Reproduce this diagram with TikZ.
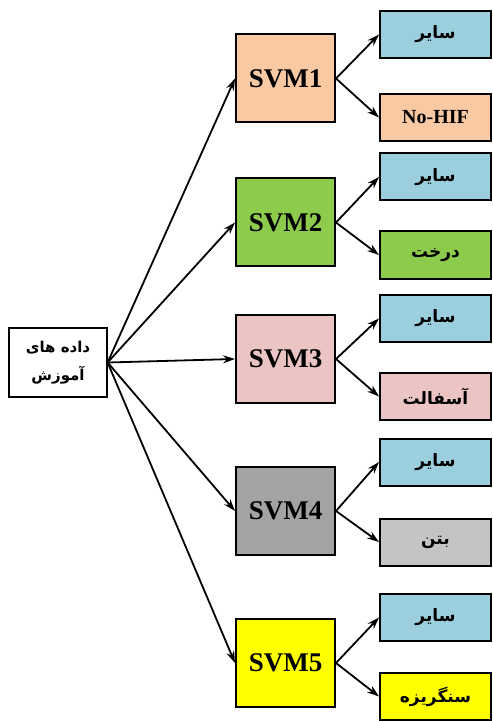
\documentclass[tikz,border=0pt]{standalone}
\usepackage{fontspec}
\setmainfont{Liberation Serif}
\newfontfamily\arabicfont[Script=Arabic]{DejaVu Sans}
\TeXXeTstate=1
\usetikzlibrary{positioning, arrows.meta}

\definecolor{peach}{HTML}{F9C9A3}
\definecolor{sky}{HTML}{9BCFDD}
\definecolor{leaf}{HTML}{8DCB4C}
\definecolor{rose}{HTML}{EBC4C4}
\definecolor{stone}{HTML}{A3A3A3}
\definecolor{lstone}{HTML}{C4C4C4}
\definecolor{sun}{HTML}{FFFF00}

\tikzset{
  svmbox/.style={rectangle, draw, line width=1pt, minimum width=49.5pt, minimum height=44pt,
    inner sep=0pt, font=\fontsize{13.5}{15}\selectfont\bfseries},
  outbox/.style={rectangle, draw, line width=1pt, minimum width=55.5pt, minimum height=23.5pt,
    inner sep=0pt, font=\fontsize{10}{12}\selectfont\bfseries},
  fa/.style={font=\arabicfont\fontsize{8.5}{10}\selectfont\bfseries},
  arr/.style={-{Stealth[length=6pt, width=4pt]}, line width=0.9pt},
}

\begin{document}
\begin{tikzpicture}[x=0.5pt, y=-0.5pt]
  \useasboundingbox (0,0) rectangle (492,721);

  \node[rectangle, draw, line width=0.6pt, minimum width=49pt, minimum height=34.5pt, inner sep=0pt,
    align=center, font=\arabicfont\fontsize{7.5}{14}\selectfont\bfseries] (D) at (58,362.5)
    {\beginR داده های\endR\\\beginR آموزش\endR};

  \node[svmbox, fill=peach] (S1) at (285.5,78.5) {SVM1};
  \node[svmbox, fill=leaf]  (S2) at (285.5,222.5) {SVM2};
  \node[svmbox, fill=rose]  (S3) at (285.5,359) {SVM3};
  \node[svmbox, fill=stone] (S4) at (285.5,511) {SVM4};
  \node[svmbox, fill=sun]   (S5) at (285.5,663) {SVM5};

  % other class
  \foreach \i/\y in {1/34.5, 2/177, 3/318.5, 4/462, 5/617.5}
    \node[outbox, fa, fill=sky] (O\i) at (435.5,\y) {\beginR سایر\endR};

  % target class
  \node[outbox, fill=peach] (T1) at (435.5,117.5) {No-HIF};
  \node[outbox, fa, fill=leaf]   (T2) at (435.5,255) {\beginR درخت\endR};
  \node[outbox, fa, fill=rose]   (T3) at (435.5,396.5) {\beginR آسفالت\endR};
  \node[outbox, fa, fill=lstone] (T4) at (435.5,542) {\beginR بتن\endR};
  \node[outbox, fa, fill=sun]    (T5) at (435.5,696.5) {\beginR سنگریزه\endR};

  \foreach \i in {1,...,5} {
    \draw[arr] (D.east) -- (S\i.west);
    \draw[arr] (S\i.east) -- (O\i.west);
    \draw[arr] (S\i.east) -- (T\i.west);
  }
\end{tikzpicture}
\end{document}
